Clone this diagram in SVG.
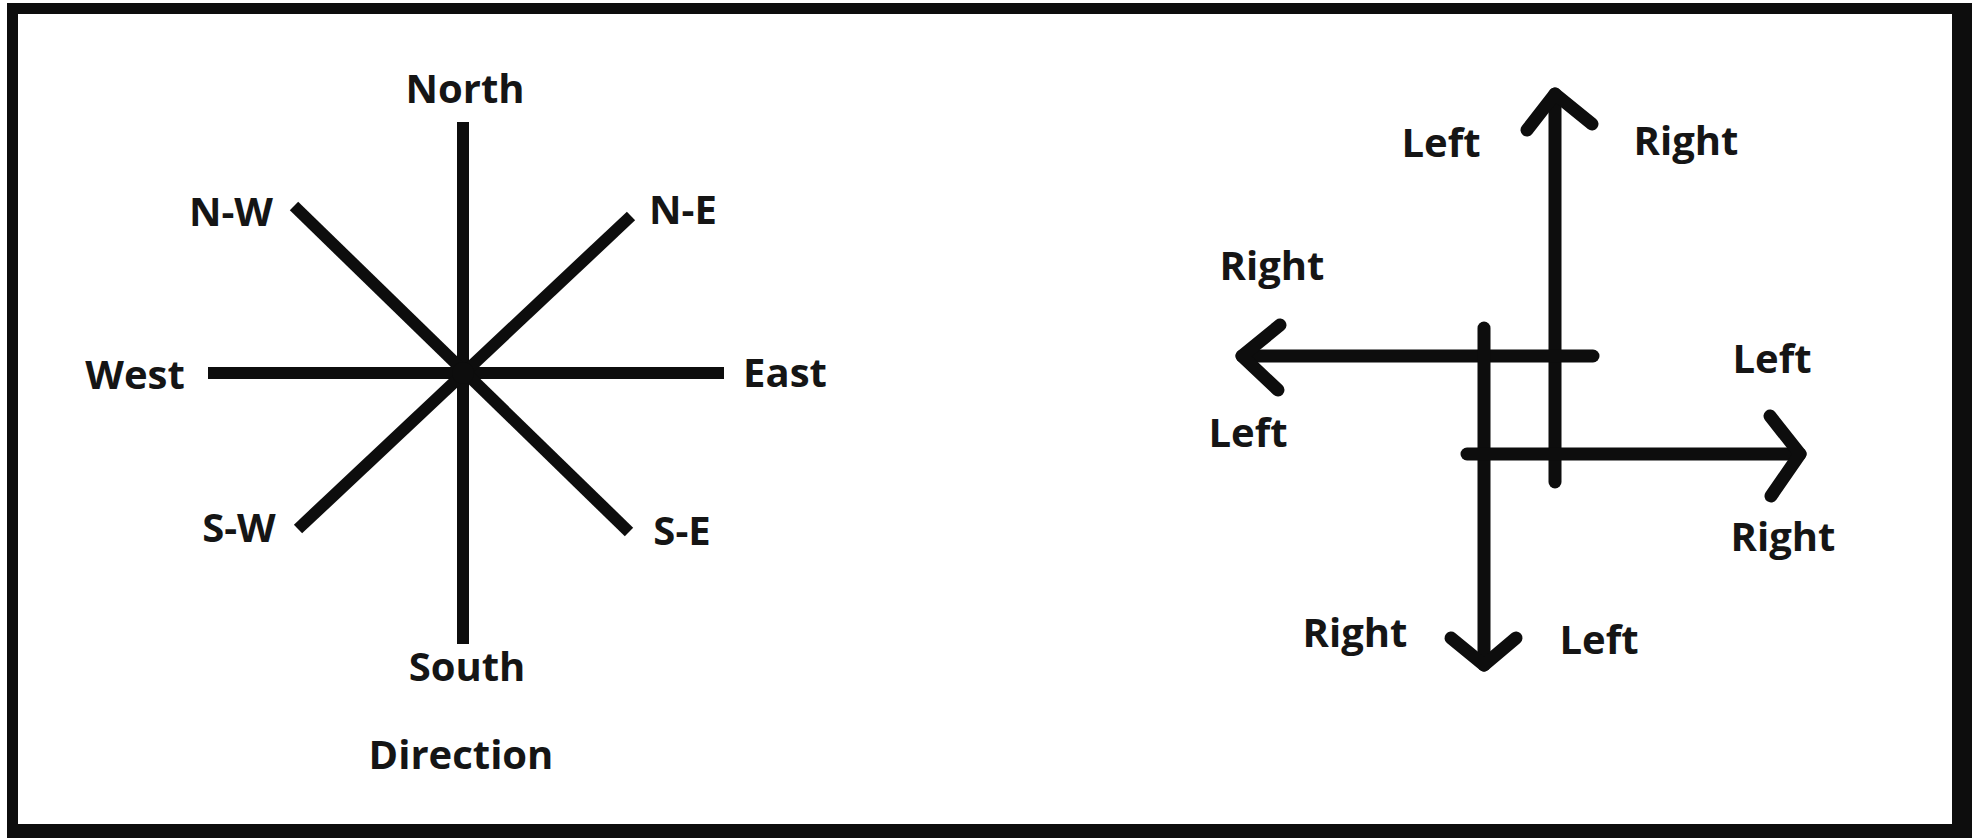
<svg xmlns="http://www.w3.org/2000/svg" width="1985" height="838" viewBox="0 0 1985 838">
<style>
.lbl{font-family:"Open Sans","Liberation Sans",sans-serif;font-weight:700;font-size:40px;fill:#151515;text-anchor:middle}
.cl{stroke:#0d0d0d;stroke-width:12;fill:none}
.ar{stroke:#0d0d0d;stroke-width:13;fill:none;stroke-linecap:round;stroke-linejoin:round}
</style>
<rect x="0" y="0" width="1985" height="838" fill="#ffffff"/>
<g id="frame" fill="#0d0d0d">
<rect x="7" y="3" width="1965" height="11"/>
<rect x="7" y="3" width="11" height="835"/>
<rect x="1952" y="3" width="20" height="835"/>
<rect x="7" y="824" width="1965" height="14"/>
</g>
<g id="compass">
<line class="cl" x1="463" y1="122" x2="463" y2="644"/>
<line class="cl" x1="208" y1="373" x2="724" y2="373"/>
<line class="cl" x1="294" y1="206" x2="629" y2="532"/>
<line class="cl" x1="631" y1="216" x2="298" y2="529"/>
<circle cx="463" cy="373" r="11" fill="#0d0d0d"/>
</g>
<g id="compass-labels">
<text class="lbl" x="465" y="103">North</text>
<text class="lbl" x="231" y="226">N-W</text>
<text class="lbl" x="683" y="224">N-E</text>
<text class="lbl" x="135" y="389">West</text>
<text class="lbl" x="785" y="387">East</text>
<text class="lbl" x="239" y="542">S-W</text>
<text class="lbl" x="682" y="545">S-E</text>
<text class="lbl" x="467" y="681">South</text>
<text class="lbl" x="461" y="769">Direction</text>
</g>
<g id="connectors">
<g id="arrow-up">
<line class="ar" x1="1555" y1="482" x2="1555" y2="94"/>
<polyline class="ar" points="1527,130 1555,94 1592,124"/>
</g>
<g id="arrow-left">
<line class="ar" x1="1593" y1="356" x2="1242" y2="356"/>
<polyline class="ar" points="1280,325 1242,356 1278,390"/>
</g>
<g id="arrow-down">
<line class="ar" x1="1484" y1="328" x2="1484" y2="665"/>
<polyline class="ar" points="1451,638 1484,665 1516,638"/>
</g>
<g id="arrow-right">
<line class="ar" x1="1467" y1="454" x2="1800" y2="454"/>
<polyline class="ar" points="1770,416 1800,454 1771,496"/>
</g>
</g>
<g id="turn-labels">
<text class="lbl" x="1441" y="157">Left</text>
<text class="lbl" x="1686" y="155">Right</text>
<text class="lbl" x="1272" y="280">Right</text>
<text class="lbl" x="1248" y="447">Left</text>
<text class="lbl" x="1772" y="373">Left</text>
<text class="lbl" x="1783" y="551">Right</text>
<text class="lbl" x="1355" y="647">Right</text>
<text class="lbl" x="1599" y="654">Left</text>
</g>
</svg>
